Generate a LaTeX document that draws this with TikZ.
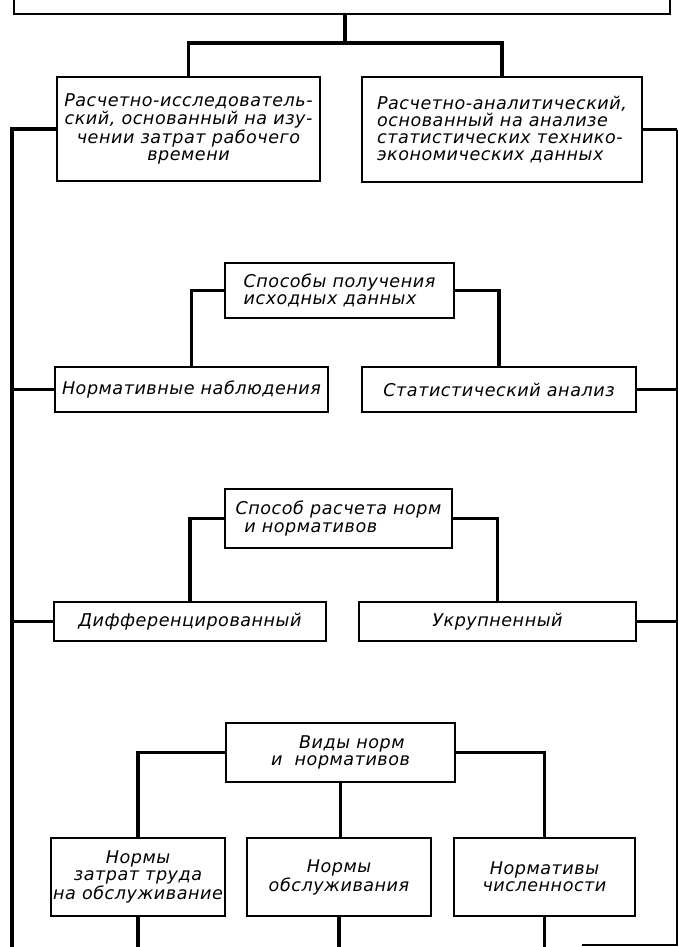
\documentclass[tikz,border=0pt]{standalone}
\usepackage{fontspec}
\setmainfont{DejaVu Sans}
\newfontfamily\gostfont[LetterSpace=3]{DejaVu Sans}
\usepackage{tikz}

\tikzset{
    box/.style={draw, line width=1.2pt, inner sep=1pt, align=center,
        font=\gostfont\itshape\fontsize{10}{9.8}\selectfont},
    conn/.style={line width=2pt},
    trunk/.style={line width=1.2pt}
}

\begin{document}
\begin{tikzpicture}[x=0.02cm, y=-0.02cm]
            \useasboundingbox (0,0) rectangle (679,947);

            % Top box (cut off by the page edge)
            \node[box, minimum width=13.12cm, minimum height=1.08cm] (top) at (342,-13) {};

            % Methods
            \node[box, minimum width=5.26cm, minimum height=2.08cm] (calc) at (188.5,129) {Расчетно-исследователь-\\ский, основанный на изу-\\чении затрат рабочего\\времени};
            \node[box, align=left, minimum width=5.60cm, minimum height=2.10cm] (anal) at (502,129.5) {Расчетно-аналитический,\\основанный на анализе\\статистических технико-\\экономических данных};

            % Ways of getting the data
            \node[box, align=left, minimum width=4.58cm, minimum height=1.10cm] (data) at (339.5,290.5) {Способы получения\\исходных данных};
            \node[box, minimum width=5.46cm, minimum height=0.90cm] (obs) at (191.5,389.5) {Нормативные наблюдения};
            \node[box, minimum width=5.48cm, minimum height=0.90cm] (stat) at (499,389.5) {Статистический анализ};

            % Way of calculation
            \node[box, align=left, minimum width=4.54cm, minimum height=1.18cm] (way) at (338.5,518.5) {Способ расчета норм\\\hspace{0.5em}и нормативов};
            \node[box, minimum width=5.44cm, minimum height=0.78cm] (diff) at (190,621.5) {Дифференцированный};
            \node[box, minimum width=5.54cm, minimum height=0.78cm] (enl) at (497.5,621.5) {Укрупненный};

            % Kinds of norms
            \node[box, align=left, minimum width=4.58cm, minimum height=1.18cm] (kind) at (340.5,752.5) {\hspace{1.6em}Виды норм\\и\hspace{0.7em}нормативов};
            \node[box, minimum width=3.40cm, minimum height=1.56cm] (labor) at (138,877) {Нормы\\затрат труда\\на обслуживание};
            \node[box, minimum width=3.68cm, minimum height=1.56cm] (serv) at (339,877) {Нормы\\обслуживания};
            \node[box, minimum width=3.62cm, minimum height=1.56cm] (staff) at (544.5,877) {Нормативы\\численности};

            % Helper points
            \coordinate (k1) at (345,43);
            \coordinate (lft) at (12,0);
            \coordinate (rgt) at (677,0);
            \coordinate (bot) at (0,952);
            \coordinate (end) at (582,945);

            % Connectors
            \draw[conn] (k1 |- top.south) -- (k1);
            \draw[conn] (calc.north) |- (k1) -| (anal.north);
            \draw[conn] (obs.north) |- (data.west);
            \draw[conn] (stat.north) |- (data.east);
            \draw[conn] (diff.north) |- (way.west);
            \draw[conn] (enl.north) |- (way.east);
            \draw[conn] (labor.north) |- (kind.west);
            \draw[conn] (staff.north) |- (kind.east);
            \draw[conn] (kind.south) -- (kind.south |- serv.north);
            \draw[conn] (labor.south) -- (labor.south |- bot);
            \draw[conn] (serv.south) -- (serv.south |- bot);
            \draw[conn] (staff.south) -- (staff.south |- bot);

            % Left trunk
            \draw[conn] (calc.west) -| (lft |- bot);
            \draw[conn] (obs.west) -- (obs.west -| lft);
            \draw[conn] (diff.west) -- (diff.west -| lft);

            % Right trunk
            \draw[conn] (anal.east) -- (anal.east -| rgt);
            \draw[conn] (stat.east) -- (stat.east -| rgt);
            \draw[conn] (enl.east) -- (enl.east -| rgt);
            \draw[trunk] (anal.east -| rgt) -- (rgt |- end) -- (end);
        \end{tikzpicture}
\end{document}
